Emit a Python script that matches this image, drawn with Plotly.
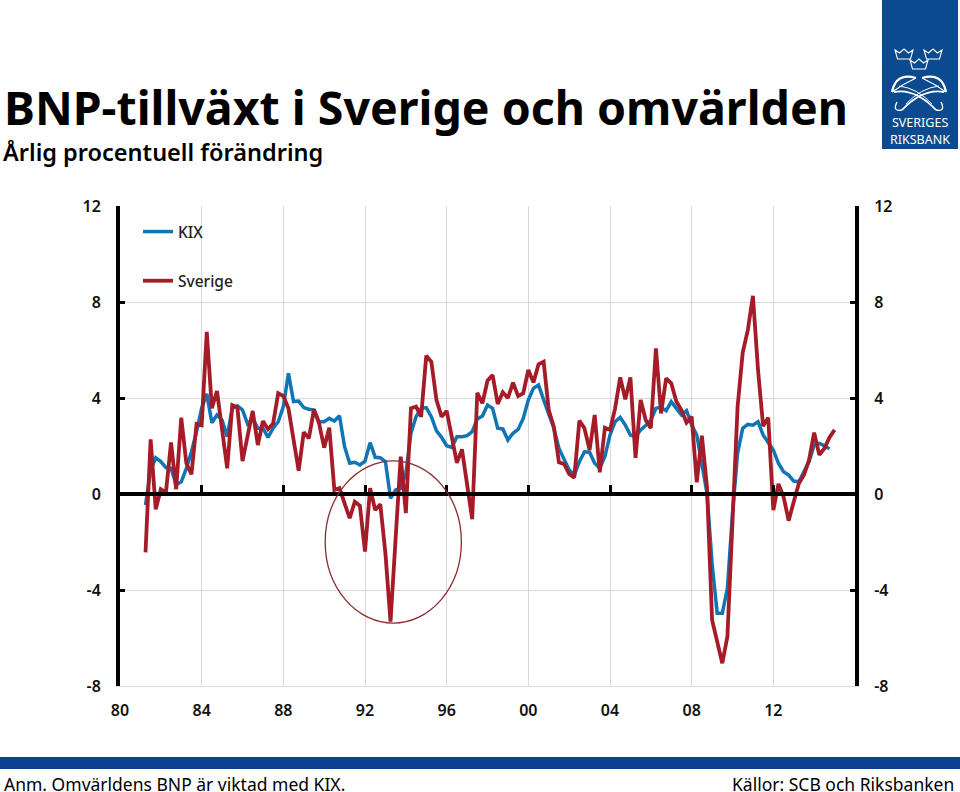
import plotly.graph_objects as go

START_YEAR = 1981.25
kix = [-0.46,1.0,1.51,1.35,1.1,1.07,0.38,0.51,1.07,1.76,2.6,3.57,4.17,2.97,3.29,3.08,2.39,3.57,3.67,3.5,
       2.92,3.15,2.74,2.74,2.36,2.74,3.01,3.64,5.03,3.85,3.87,3.6,3.53,3.5,3.01,3.01,3.15,3.04,3.26,1.97,
       1.28,1.32,1.21,1.37,2.14,1.53,1.51,1.35,-0.18,0.17,0.24,0.86,2.53,3.22,3.57,3.6,3.22,2.63,2.36,2.01,
       1.94,2.39,2.39,2.43,2.6,3.13,3.25,3.71,3.57,2.74,2.71,2.25,2.53,2.69,3.15,3.92,4.4,4.54,3.92,3.29,
       2.74,1.9,1.42,1.0,0.79,1.35,1.76,1.74,1.28,1.07,1.56,2.46,3.01,3.19,2.87,2.46,2.39,2.67,2.85,3.08,
       3.57,3.61,3.47,3.85,3.57,3.29,3.47,2.87,2.46,1.28,0.03,-2.9,-4.97,-4.97,-3.93,-0.8,1.7,2.74,2.9,2.87,
       3.01,2.46,2.15,1.83,1.28,0.93,0.79,0.54,0.51,0.93,1.35,2.04,2.11,2.01,1.88]
sverige = [-2.43,2.28,-0.64,0.2,0.07,2.15,0.2,3.18,1.28,0.82,2.92,2.86,6.76,3.57,4.29,2.8,1.07,3.7,3.6,1.37,
           2.4,3.46,2.04,3.04,2.7,2.94,4.2,4.08,3.57,2.25,0.97,2.57,2.32,3.53,2.94,1.93,2.76,0.17,0.24,-0.39,
           -1.01,-0.32,-0.49,-2.4,0.24,-0.67,-0.43,-2.47,-5.32,-1.85,1.56,-0.8,3.57,3.64,3.22,5.76,5.51,3.92,3.22,3.46,
           2.46,1.3,1.86,0.44,-1.05,4.22,3.78,4.72,4.96,3.75,4.24,4.0,4.64,4.08,4.2,5.17,4.65,5.4,5.51,3.5,
           2.8,1.32,1.25,0.83,0.68,3.06,2.74,1.83,3.29,0.9,2.76,2.67,3.57,4.86,3.94,4.86,1.51,3.92,3.08,2.74,
           6.07,3.36,4.82,4.61,3.85,3.5,2.97,3.22,0.49,2.43,0.3,-5.25,-6.15,-7.05,-5.94,-0.8,3.64,5.89,6.83,8.26,
           5.17,2.83,3.18,-0.67,0.42,-0.11,-1.11,-0.32,0.44,0.79,1.42,2.56,1.63,1.9,2.36,2.67]
x_tick_years = [1980,1984,1988,1992,1996,2000,2004,2008,2012]
x_tick_labels = ["80","84","88","92","96","00","04","08","12"]
y_ticks = [-8,-4,0,4,8,12]
y_tick_labels = ["-8","-4","0","4","8","12"]

TITLE = "BNP-tillväxt i Sverige och omvärlden"
SUBTITLE = "Årlig procentuell förändring"
NOTE = "Anm. Omvärldens BNP är viktad med KIX."
SOURCE = "Källor: SCB och Riksbanken"

W, H = 960, 792
L, R, T, B = 120, 855, 206, 686
XMIN, XMAX = 1980, 2016
FONT = "Noto Sans"
BLUE, RED = "#0f75b5", "#a51c28"
GRID = "#d9d9d9"
NAVY = "#0f3f8f"

def px(x): return x / W
def py(y): return 1 - y / H

quarters = lambda n: [START_YEAR + 0.25 * i for i in range(n)]

fig = go.Figure()
fig.add_trace(go.Scatter(x=quarters(len(kix)), y=kix, name="KIX", mode="lines", legendgroup="a",
                         line=dict(color=BLUE, width=3.5)))
fig.add_trace(go.Scatter(x=quarters(len(sverige)), y=sverige, name="Sverige", mode="lines", legendgroup="b",
                         line=dict(color=RED, width=3.8)))
# carrier so that the second pair of axes is drawn
fig.add_trace(go.Scatter(x=[None], y=[None], xaxis="x2", yaxis="y2", showlegend=False, hoverinfo="skip"))

tickfont = dict(family=FONT, size=16, color="#111111", weight=600)
common_y = dict(range=[-8, 12], tickmode="array", tickvals=y_ticks, ticktext=y_tick_labels, ticks="inside", ticklen=5, tickwidth=3,
                tickcolor="black", showline=True, linecolor="black", linewidth=4, tickfont=tickfont,
                ticklabelstandoff=12, zeroline=False)
shapes = [
    dict(type="circle", xref="x", yref="y", x0=1990.05, x1=1996.72, y0=-5.38, y1=1.38,
         line=dict(color="#8c2a30", width=1.3), layer="above"),
    dict(type="rect", xref="paper", yref="paper", x0=0, x1=1, y0=py(769), y1=py(757),
         fillcolor=NAVY, line=dict(width=0)),
    dict(type="rect", xref="paper", yref="paper", x0=px(882), x1=px(958), y0=py(149), y1=py(0),
         fillcolor="#0b4a8e", line=dict(width=0)),
]

def crown(cx, cy):
    a = [(-9,-5),(-4.5,-2),(0,-6),(4.5,-2),(9,-5),(6.5,4),(-6.5,4)]
    d = "M " + " L ".join(f"{px(cx+u):.5f},{py(cy+v):.5f}" for u, v in a) + " Z"
    return dict(type="path", xref="paper", yref="paper", path=d, line=dict(color="white", width=1.1))

def curve(pts, w=1.6):
    (a, b, c) = pts[0], pts[1], pts[2]
    d = f"M {px(a[0]):.5f},{py(a[1]):.5f} Q {px(b[0]):.5f},{py(b[1]):.5f} {px(c[0]):.5f},{py(c[1]):.5f}"
    return dict(type="path", xref="paper", yref="paper", path=d, line=dict(color="white", width=w))

shapes += [crown(904, 55), crown(933, 55), crown(919, 65)]
shapes += [
    curve([(892, 92), (896, 72), (916, 78)], 2.2), curve([(892, 92), (903, 84), (916, 78)], 1.2),
    curve([(946, 92), (942, 72), (922, 78)], 2.2), curve([(946, 92), (935, 84), (922, 78)], 1.2),
    curve([(894, 92), (915, 88), (936, 110)], 1.8), curve([(944, 92), (923, 88), (902, 110)], 1.8),
    curve([(899, 86), (917, 88), (932, 104)], 1.0), curve([(939, 86), (921, 88), (906, 104)], 1.0),
    curve([(902, 110), (892, 112), (897, 102)], 1.4), curve([(936, 110), (946, 112), (941, 102)], 1.4),
]

def text(s, x, y, size, anchor="left", color="black", weight=400):
    return dict(text=s, x=px(x), y=py(y), xref="paper", yref="paper", xanchor=anchor, yanchor="middle",
                showarrow=False, xshift=0, align=anchor, borderpad=0,
                font=dict(family=FONT, size=size, color=color, weight=weight))

annotations = [
    text(TITLE, 3, 107, 46.5, weight=700),
    text(SUBTITLE, 2, 152, 23.5, weight=600),
    text(NOTE, 3, 784, 17.5),
    text(SOURCE, 955, 784, 17.5, anchor="right"),
    text("SVERIGES", 920, 123, 12.5, anchor="center", color="white"),
    text("RIKSBANK", 920, 139, 12.5, anchor="center", color="white"),
]

fig.update_layout(
    width=W, height=H, autosize=False, margin=dict(l=0, r=0, t=0, b=0, pad=0, autoexpand=False),
    paper_bgcolor="white", plot_bgcolor="white", hovermode=False,
    xaxis=dict(domain=[px(L), px(R)], range=[XMIN, XMAX], tickmode="array", tickvals=x_tick_years,
               ticktext=x_tick_labels, showgrid=True, gridcolor=GRID, gridwidth=1.3, ticks="",
               tickfont=tickfont, ticklabelstandoff=10, showline=True, linecolor=GRID, linewidth=1.3, zeroline=False),
    xaxis2=dict(domain=[px(L), px(R)], range=[XMIN, XMAX], overlaying="x", anchor="free", position=py(494), side="bottom",
                tickmode="array", tickvals=x_tick_years[1:], ticks="inside", ticklen=7, tickwidth=3, tickcolor="black",
                showticklabels=False, showgrid=False, showline=True, linecolor="black", linewidth=4, zeroline=False),
    yaxis=dict(domain=[py(B), py(T)], side="left", showgrid=True, gridcolor=GRID, gridwidth=1.3, **common_y),
    yaxis2=dict(domain=[py(B), py(T)], side="right", overlaying="y", anchor="x", showgrid=False, **common_y),
    legend=dict(x=px(138), y=py(215), xanchor="left", yanchor="top", bgcolor="rgba(0,0,0,0)",
                tracegroupgap=26, itemwidth=30, font=dict(family=FONT, size=15.5, color="#222222", weight=500)),
    shapes=shapes, annotations=annotations,
)

fig.write_html("out.html", config={"displayModeBar": False}, post_script="""
document.documentElement.style.cssText='margin:0;padding:0;overflow:hidden';
document.body.style.cssText='margin:0;padding:0;overflow:hidden';
var gd=document.getElementById('{plot_id}');
gd.style.position='absolute';gd.style.left='0';gd.style.top='0';
""")
